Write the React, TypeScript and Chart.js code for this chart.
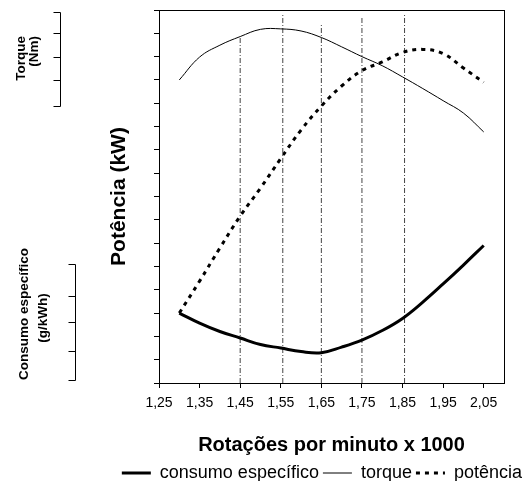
import { useEffect, useRef } from "react";
import { Chart, registerables } from "chart.js";

Chart.register(...registerables);

// ---- data (y in units of the 16 unlabeled divisions of the power axis) ----
const rpm = [1.3, 1.35, 1.4, 1.45, 1.5, 1.55, 1.6, 1.65, 1.7, 1.75, 1.8, 1.85, 1.9, 1.95, 2.0, 2.05];
const consumo = [3.0, 2.57, 2.21, 1.93, 1.65, 1.5, 1.35, 1.3, 1.54, 1.84, 2.25, 2.77, 3.47, 4.25, 5.06, 5.9];
const torque = [13.0, 13.98, 14.49, 14.86, 15.17, 15.19, 15.1, 14.82, 14.42, 14.0, 13.61, 13.13, 12.63, 12.11, 11.58, 10.77];
const potencia = [3.0, 4.37, 5.79, 7.16, 8.36, 9.63, 10.85, 11.88, 12.74, 13.4, 13.77, 14.18, 14.31, 14.13, 13.51, 12.9];
const markerX = [1.45, 1.555, 1.65, 1.75, 1.855];
const markerTop = [14.84, 15.79, 15.44, 15.66, 15.79];
const xTicks = [1.25, 1.35, 1.45, 1.55, 1.65, 1.75, 1.85, 1.95, 2.05];
const seriesNames = ["consumo específico", "torque", "potência"];
const yTitle = "Potência (kW)";
const xTitle = "Rotações por minuto x 1000";
const torqueAxisTitle = ["Torque", "(Nm)"];
const consumoAxisTitle = ["Consumo específico", "(g/kWh)"];

const FONT = "'Liberation Sans', Arial, Helvetica, sans-serif";

const auxAxesPlugin = {
  id: "auxAxes",
  afterDraw(chart: any) {
    const ctx = chart.ctx as CanvasRenderingContext2D;
    ctx.save();
    ctx.strokeStyle = "#000";
    ctx.lineWidth = 1;
    const drawAxis = (x: number, ticks: number[], len: number) => {
      ctx.beginPath();
      ctx.moveTo(x, ticks[0]);
      ctx.lineTo(x, ticks[ticks.length - 1]);
      for (const t of ticks) {
        ctx.moveTo(x - len, t);
        ctx.lineTo(x, t);
      }
      ctx.stroke();
    };
    drawAxis(60.5, [12.5, 33.5, 57.5, 80.5, 106.5], 7);
    drawAxis(75.5, [264.5, 296.5, 322.5, 351.5, 380.5], 7);

    ctx.fillStyle = "#000";
    ctx.font = `bold 13.5px ${FONT}`;
    ctx.textBaseline = "alphabetic";
    const rot = (text: string, x: number, y: number, align: CanvasTextAlign) => {
      ctx.save();
      ctx.translate(x, y);
      ctx.rotate(-Math.PI / 2);
      ctx.textAlign = align;
      ctx.fillText(text, 0, 0);
      ctx.restore();
    };
    rot(torqueAxisTitle[0], 24.5, 36, "right");
    rot(torqueAxisTitle[1], 37.5, 36, "right");
    rot(consumoAxisTitle[0], 28, 314, "center");
    rot(consumoAxisTitle[1], 47, 318, "center");
    ctx.restore();
  },
};

export default function App() {
  const ref = useRef<HTMLCanvasElement>(null);

  useEffect(() => {
    if (!ref.current) return;
    Chart.defaults.font.family = FONT;
    const pts = (ys: number[]) => rpm.map((x, i) => ({ x, y: ys[i] }));

    const datasets: any[] = [
      {
        label: seriesNames[0],
        data: pts(consumo),
        borderColor: "#000",
        backgroundColor: "#000",
        borderWidth: 3,
        pointRadius: 0,
        tension: 0.4,
      },
      {
        label: seriesNames[1],
        data: pts(torque),
        borderColor: "#000",
        backgroundColor: "#000",
        borderWidth: 1,
        pointRadius: 0,
        tension: 0.4,
      },
      {
        label: seriesNames[2],
        data: pts(potencia),
        borderColor: "#000",
        backgroundColor: "#000",
        borderWidth: 3,
        borderDash: [4, 5],
        pointRadius: 0,
        tension: 0.4,
      },
      ...markerX.map((x, i) => ({
        label: "m" + i,
        data: [
          { x, y: 0 },
          { x, y: markerTop[i] },
        ],
        borderColor: "#444",
        borderWidth: 1,
        borderDash: [5, 2, 1, 2],
        pointRadius: 0,
      })),
    ];

    const chart = new Chart(ref.current, {
      type: "line",
      data: { datasets },
      options: {
        animation: false,
        responsive: false,
        devicePixelRatio: 1,
        layout: { padding: { left: 0, right: 0, top: 0, bottom: -11 } },
        plugins: {
          tooltip: { enabled: false },
          legend: {
            display: true,
            position: "bottom",
            align: "end",
            labels: {
              generateLabels: (c: any) => {
                const items = (Chart.defaults as any).plugins.legend.labels.generateLabels(c);
                return items
                  .filter((it: any) => it.datasetIndex < 3)
                  .map((it: any) => ({
                    ...it,
                    lineDash: c.data.datasets[it.datasetIndex].borderDash || [],
                    lineWidth: c.data.datasets[it.datasetIndex].borderWidth,
                  }));
              },
              usePointStyle: true,
              pointStyle: "line",
              pointStyleWidth: 29,
              padding: 4,
              color: "#000",
              font: { size: 18, family: FONT },
            },
          },
        },
        scales: {
          x: {
            type: "linear",
            position: "bottom",
            min: 1.25,
            max: 2.1,
            afterBuildTicks: (s: any) => {
              s.ticks = xTicks.map((v) => ({ value: v }));
            },
            afterFit: (s: any) => {
              s.height = 77;
            },
            grid: { drawOnChartArea: false, drawTicks: true, tickLength: 5, color: "#000" },
            border: { display: true, color: "#000", width: 1 },
            ticks: {
              autoSkip: false,
              maxRotation: 0,
              padding: 7,
              color: "#000",
              font: { size: 14, family: FONT },
              callback: (v: any) => Number(v).toFixed(2).replace(".", ","),
            },
            title: {
              display: true,
              text: xTitle,
              color: "#000",
              font: { size: 20, weight: "bold", family: FONT },
              padding: { top: 0, bottom: 3 },
            },
          },
          x2: {
            type: "linear",
            position: "top",
            min: 0,
            max: 1,
            afterFit: (s: any) => {
              s.height = 10;
            },
            grid: { drawOnChartArea: false, drawTicks: false },
            border: { display: true, color: "#000", width: 1 },
            ticks: { display: false },
          },
          y: {
            type: "linear",
            position: "left",
            min: 0,
            max: 16,
            afterFit: (s: any) => {
              s.width = 159;
            },
            grid: { drawOnChartArea: false, drawTicks: true, tickLength: 5, color: "#000" },
            border: { display: true, color: "#000", width: 1 },
            ticks: { display: false, stepSize: 1 },
            title: {
              display: true,
              text: yTitle,
              color: "#000",
              font: { size: 21, weight: "bold", family: FONT },
              padding: { top: 107, bottom: 0 },
            },
          },
          yR: {
            type: "linear",
            position: "right",
            min: 0,
            max: 1,
            afterFit: (s: any) => {
              s.width = 22;
            },
            grid: { drawOnChartArea: false, drawTicks: false },
            border: { display: true, color: "#000", width: 1 },
            ticks: { display: false },
          },
        },
      } as any,
      plugins: [auxAxesPlugin],
    });
    return () => chart.destroy();
  }, []);

  return (
    <div style={{ position: "absolute", left: 0, top: 0, width: 526, height: 481 }}>
      <canvas ref={ref} width={526} height={481} style={{ width: 526, height: 481 }} />
    </div>
  );
}
